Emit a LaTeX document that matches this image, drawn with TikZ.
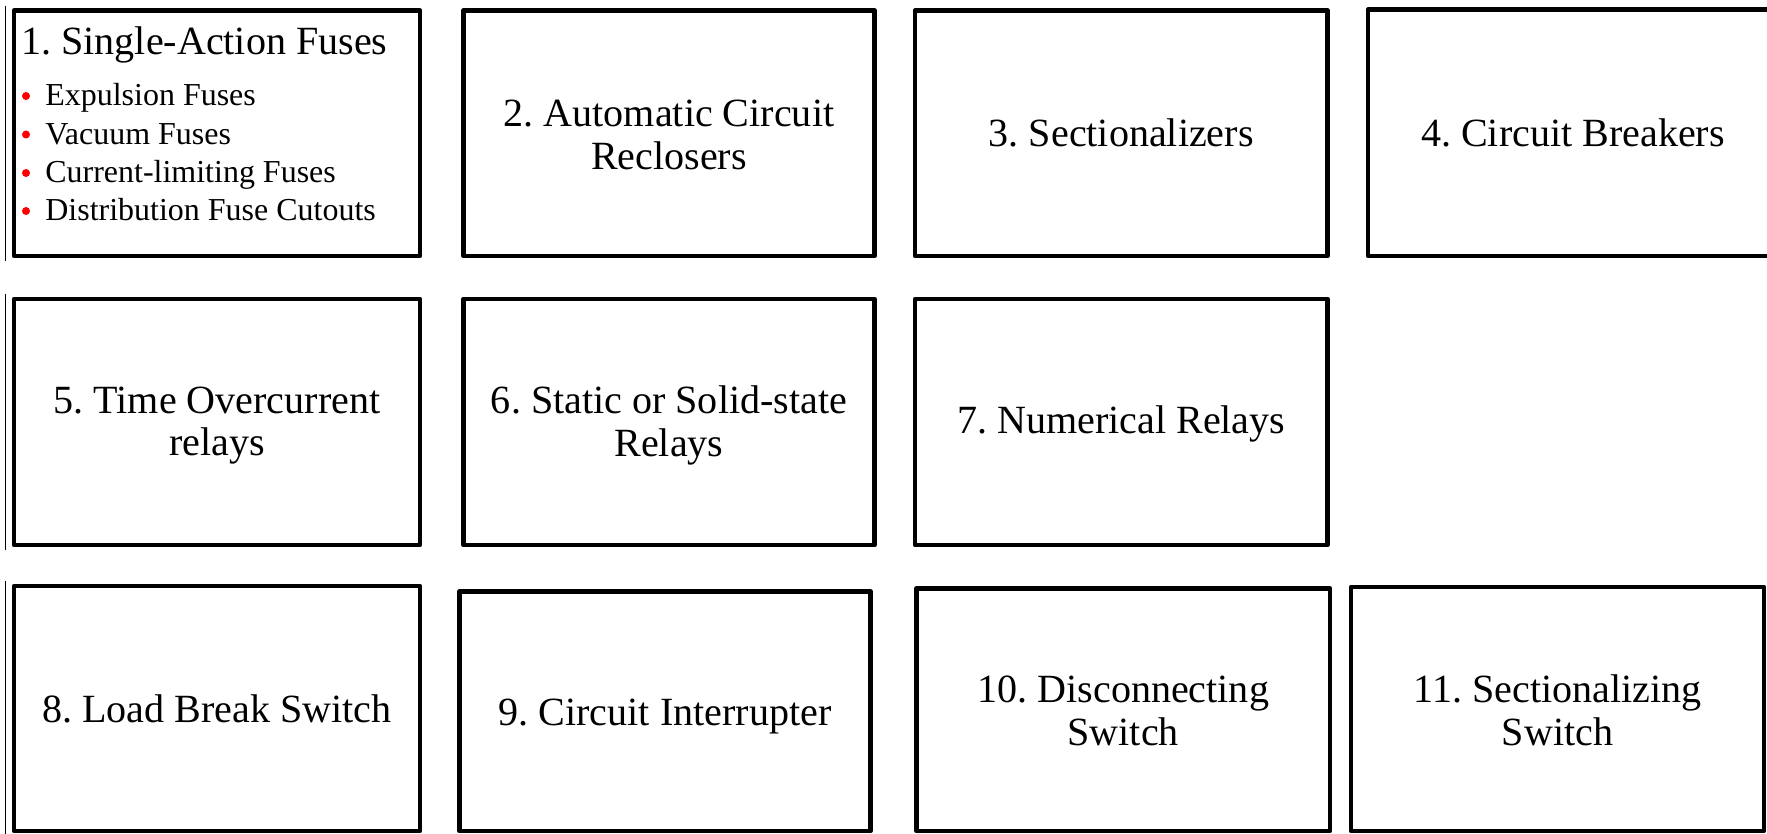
\documentclass[tikz,border=0pt]{standalone}
\usepackage{fontspec}
\setmainfont{Liberation Serif}
\frenchspacing
\usetikzlibrary{fit}
\tikzset{
  box/.style={draw=black, line width=2.56pt, line join=round, inner sep=0pt, fill=none},
  lbl/.style={align=center, inner sep=0pt, font=\fontsize{22.8pt}{24.4pt}\selectfont},
  thinline/.style={draw=black, line width=0.7pt},
  titletext/.style={anchor=base west, inner sep=0pt, font=\fontsize{22.8pt}{23.6pt}\selectfont},
  itemtext/.style={anchor=base west, inner sep=0pt, font=\fontsize{18.2pt}{21.9pt}\selectfont},
  reddot/.style={circle, fill=red, inner sep=0pt, minimum size=0.16cm}
}
\begin{document}
\begin{tikzpicture}[x=0.02cm, y=-0.02cm]
\useasboundingbox (0,0) rectangle (1767,834);
\clip (0,0) rectangle (1767,834);
\fill[white] (0,0) rectangle (1767,834);
% row 1
\node[box, fit={(14,10.5) (420,256)}] (b1) {};
\node[box, fit={(463.5,10.5) (874.5,256)}] (b2) {};
\node[box, fit={(915,10.5) (1327.5,256)}] (b3) {};
\node[box, fit={(1368,9.5) (1778,256)}] (b4) {};
% row 2
\node[box, fit={(14,299) (420,545)}] (b5) {};
\node[box, fit={(463.5,299) (874.5,545)}] (b6) {};
\node[box, fit={(915,299) (1327.5,545)}] (b7) {};
% row 3
\node[box, fit={(14,586) (420,831)}] (b8) {};
\node[box, fit={(459.5,591.5) (870.5,831)}] (b9) {};
\node[box, fit={(916.5,588.5) (1330,831)}] (b10) {};
\node[box, fit={(1351,587) (1764,831)}] (b11) {};
% labels
\node[lbl] (l2) at ([yshift=-0.03cm]b2.center) {2. Automatic Circuit\\Reclosers};
\node[lbl] (l3) at (b3.center) {3. Sectionalizers};
\node[lbl] (l4) at (b4.center) {4. Circuit Breakers};
\node[lbl] (l5) at ([yshift=-0.07cm]b5.center) {5. Time Overcurrent\\relays};
\node[lbl] (l6) at ([yshift=-0.07cm]b6.center) {6. Static or Solid-state\\Relays};
\node[lbl] (l7) at ([yshift=-0.04cm]b7.center) {7. Numerical Relays};
\node[lbl] (l8) at (b8.center) {8. Load Break Switch};
\node[lbl] (l9) at ([yshift=-0.11cm]b9.center) {9. Circuit Interrupter};
\node[lbl] (l10) at ([yshift=-0.02cm]b10.center) {10. Disconnecting\\Switch};
\node[lbl] (l11) at ([yshift=-0.02cm]b11.center) {11. Sectionalizing\\Switch};
% thin lines beside left column
\foreach \b in {b1,b5,b8}{
  \draw[thinline] ([shift={(-0.13cm,0.05cm)}]\b.north west) -- ([shift={(-0.13cm,-0.05cm)}]\b.south west);
}
% box 1 content
\node[titletext] (t1) at (21,55) {1. Single-Action Fuses};
\node[itemtext] (i1) at (45,106) {Expulsion Fuses};
\node[itemtext] (i2) at (45,144.5) {Vacuum Fuses};
\node[itemtext] (i3) at (45,183) {Current-limiting Fuses};
\node[itemtext] (i4) at (45,221) {Distribution Fuse Cutouts};
\node[reddot] (d1) at (26,96) {};
\node[reddot] (d2) at (26,134.5) {};
\node[reddot] (d3) at (26,173) {};
\node[reddot] (d4) at (26,211) {};
\end{tikzpicture}
\end{document}
